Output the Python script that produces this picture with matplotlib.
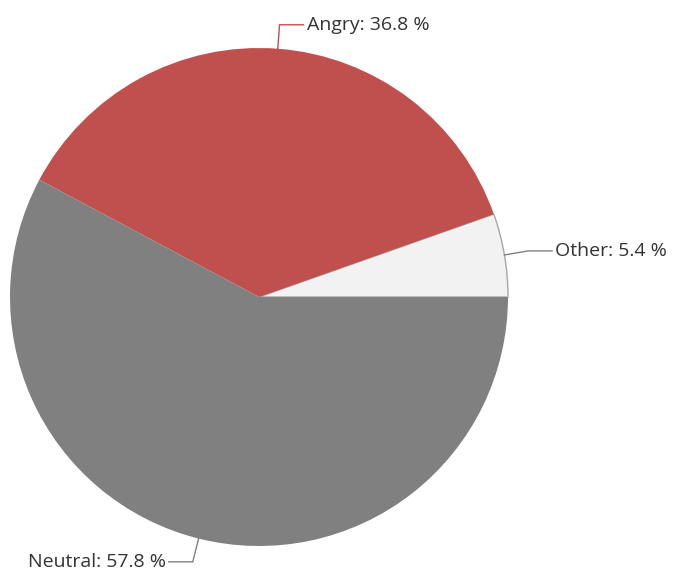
import numpy as np
import matplotlib
matplotlib.use("Agg")
import matplotlib.pyplot as plt

labels = ["Other", "Angry", "Neutral"]
values = [5.4, 36.8, 57.8]
colors = ["#F2F2F2", "#C0504D", "#808080"]
line_colors = ["#808080", "#C0504D", "#808080"]

W, H = 675, 575
fig = plt.figure(figsize=(W / 100, H / 100), dpi=100)
ax = fig.add_axes([0, 0, 1, 1])

cx, cy, r = 259, H - 297, 249
wedges, _ = ax.pie(values, colors=colors, startangle=0, counterclock=True,
                   center=(cx, cy), radius=r, frame=True,
                   wedgeprops=dict(linewidth=0))
wedges[0].set_edgecolor("#A6A6A6")
wedges[0].set_linewidth(1.0)
ax.set_xlim(0, W)
ax.set_ylim(0, H)
ax.set_aspect("equal")
ax.axis("off")

for w, lab, val, lc in zip(wedges, labels, values, line_colors):
    mid = np.deg2rad((w.theta1 + w.theta2) / 2)
    dx, dy = np.cos(mid), np.sin(mid)
    p0 = (cx + r * dx, cy + r * dy)
    p1 = (cx + (r + 24) * dx, cy + (r + 24) * dy)
    sgn = 1 if dx >= 0 else -1
    p2 = (p1[0] + sgn * 24, p1[1])
    ax.plot([p0[0], p1[0], p2[0]], [p0[1], p1[1], p2[1]], color=lc, lw=1.0,
            solid_joinstyle="miter")
    ax.text(p2[0] + sgn * 3, p2[1], f"{lab}: {val} %",
            ha="left" if sgn > 0 else "right", va="center",
            fontsize=14, family="Open Sans", color="#333333")

fig.savefig("out.png", dpi=100, facecolor="white")
